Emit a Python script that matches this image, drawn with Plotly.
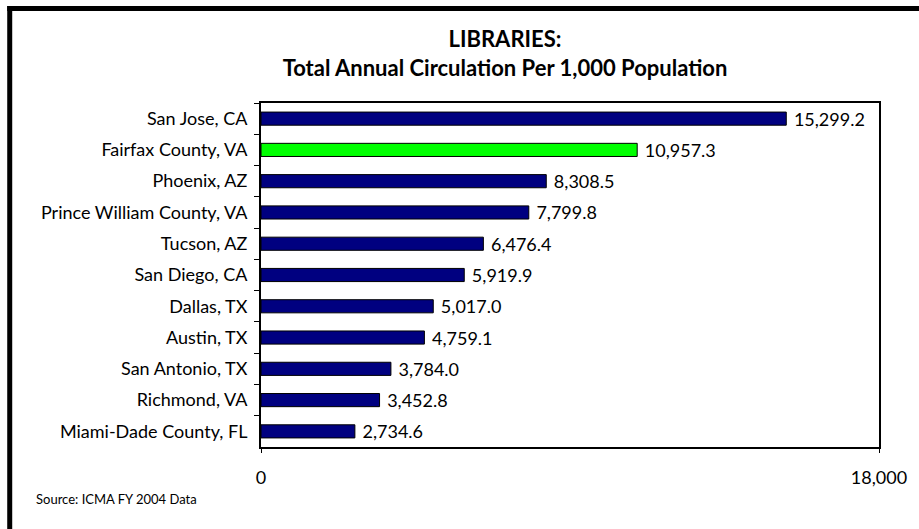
import plotly.graph_objects as go

cities = ["San Jose, CA", "Fairfax County, VA", "Phoenix, AZ", "Prince William County, VA",
          "Tucson, AZ", "San Diego, CA", "Dallas, TX", "Austin, TX", "San Antonio, TX",
          "Richmond, VA", "Miami-Dade County, FL"]
values = [15299.2, 10957.3, 8308.5, 7799.8, 6476.4, 5919.9, 5017.0, 4759.1, 3784.0, 3452.8, 2734.6]
colors = ["#000080" if c != "Fairfax County, VA" else "#00FF00" for c in cities]
x_ticks = [0, 18000]
x_tick_text = ["0", "18,000"]

W, H = 919, 529
L, T = 261, 103
R = W - 882
B = H - 447
pw, ph = W - L - R, H - T - B

FONT = "Lato, Open Sans, sans-serif"

fig = go.Figure(go.Bar(
    x=values, y=cities, orientation="h",
    marker=dict(color=colors, line=dict(color="black", width=1)),
    width=0.42,
    texttemplate="\u00a0%{x:,.1f}", textposition="outside",
    constraintext="none",
    textfont=dict(size=18, color="black", family=FONT),
    cliponaxis=False,
    hoverinfo="skip",
))

def px_x(p):
    return (p - L) / pw

def px_y(p):
    return (H - B - p) / ph

frame = dict(color="black", width=5)
fig.update_layout(
    width=W, height=H,
    margin=dict(l=L, r=R, t=T, b=B),
    paper_bgcolor="white", plot_bgcolor="white",
    showlegend=False,
    font=dict(family=FONT, color="black", size=18),
    title=dict(text="<b>LIBRARIES:<br>Total Annual Circulation Per 1,000 Population</b>",
               x=505 / W, xanchor="center", y=1 - 47 / H, yanchor="middle",
               font=dict(size=22, family=FONT, color="black")),
    xaxis=dict(range=[0, 18000], tickvals=x_ticks, ticktext=x_tick_text,
               showgrid=False, zeroline=False, showline=True, linecolor="black",
               linewidth=2, mirror=True, ticks="outside", ticklen=4, tickcolor="black",
               ticklabelstandoff=9, tickfont=dict(size=18, family=FONT)),
    yaxis=dict(autorange="reversed", showgrid=False, showline=True, linecolor="black",
               linewidth=2, mirror=True, ticks="outside", ticklen=5, tickcolor="black",
               tickson="boundaries", ticklabelstandoff=8, tickfont=dict(size=18, family=FONT)),
    shapes=[
        dict(type="line", xref="paper", yref="paper",
             x0=px_x(8.5), x1=px_x(8.5), y0=px_y(6), y1=px_y(600), line=frame, layer="above"),
        dict(type="line", xref="paper", yref="paper",
             x0=px_x(6), x1=px_x(1000), y0=px_y(8.5), y1=px_y(8.5), line=frame, layer="above"),
    ],
    annotations=[dict(text="Source: ICMA FY 2004 Data", xref="paper", yref="paper",
                      x=px_x(33), y=px_y(499), xanchor="left", yanchor="middle",
                      showarrow=False, font=dict(size=13, family=FONT, color="black"))],
)

fig.write_html(
    "out.html",
    config={"displayModeBar": False, "staticPlot": True},
    post_script="document.body.style.margin='0';document.documentElement.style.overflow='hidden';document.body.style.overflow='hidden';",
)
